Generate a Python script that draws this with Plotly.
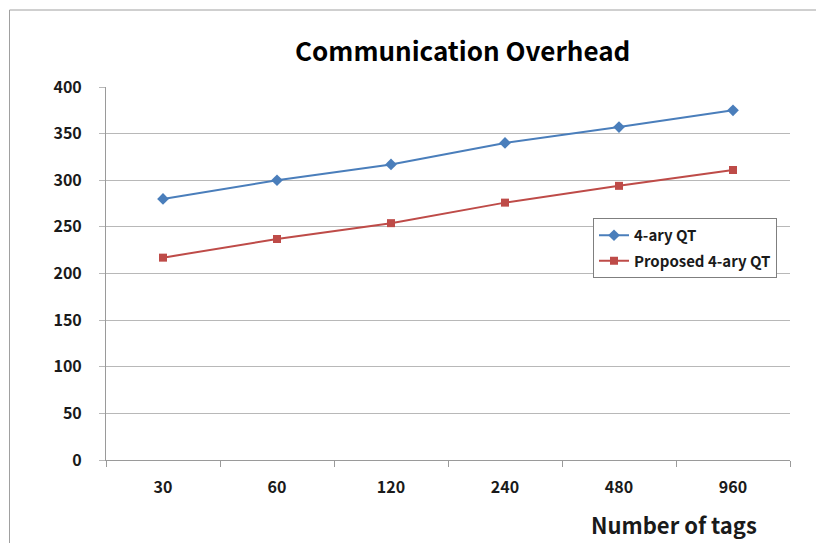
import plotly.graph_objects as go

categories = ["30", "60", "120", "240", "480", "960"]
qt_4ary = [280, 300, 317, 340, 357, 375]
proposed_4ary = [217, 237, 254, 276, 294, 311]
y_ticks = [0, 50, 100, 150, 200, 250, 300, 350, 400]

FONT = "Noto Sans CJK KR"

# page has an 8px body margin, so figure coords = screen coords - 8
PL, PR, PT, PB = 98, 782, 79, 452
W, H = 816, 535
PW, PH = PR - PL, PB - PT

def px(x):
    return (x - 8 - PL) / PW

def py(y):
    return (PB - (y - 8)) / PH

fig = go.Figure()
fig.add_trace(go.Scatter(
    x=categories, y=qt_4ary, name="4-ary QT", mode="lines+markers",
    legendgroup="a",
    line=dict(color="#4A7EBB", width=2),
    marker=dict(symbol="diamond", size=9, color="#4A7EBB"),
))
fig.add_trace(go.Scatter(
    x=categories, y=proposed_4ary, name="Proposed 4-ary QT", mode="lines+markers",
    legendgroup="b",
    line=dict(color="#BE4B48", width=2),
    marker=dict(symbol="square", size=8, color="#BE4B48"),
))

fig.update_layout(
    width=W, height=H,
    margin=dict(l=PL, r=W - PR, t=PT, b=H - PB),
    paper_bgcolor="white", plot_bgcolor="white",
    font=dict(family=FONT, size=16, color="#1a1a1a"),
    showlegend=True,
    legend=dict(
        x=px(777), y=py(218), xanchor="right", yanchor="top",
        bordercolor="#7f7f7f", borderwidth=1, bgcolor="white",
        font=dict(family=FONT, size=15, color="#1a1a1a", weight="bold"),
        traceorder="grouped", tracegroupgap=3, itemwidth=30,
    ),
    xaxis=dict(
        type="category", range=[-0.5, len(categories) - 0.5],
        showgrid=False, showline=True, linecolor="#9a9a9a",
        linewidth=1, ticks="outside", tickson="boundaries", ticklen=6,
        tickcolor="#9a9a9a", tickfont=dict(family=FONT, size=16, weight="bold"),
        ticklabelstandoff=13, fixedrange=True,
    ),
    yaxis=dict(
        range=[0, 400], tickvals=y_ticks, showgrid=True, gridcolor="#B8B8B8",
        gridwidth=1, showline=True, linecolor="#9a9a9a", linewidth=1,
        ticks="outside", ticklen=6, tickcolor="#B8B8B8",
        tickfont=dict(family=FONT, size=16, weight="bold"),
        ticklabelstandoff=14, zeroline=False, fixedrange=True,
    ),
    annotations=[
        dict(text="Communication Overhead", x=px(462), y=py(50), xref="paper", yref="paper",
             xanchor="center", yanchor="middle",
             showarrow=False, font=dict(family=FONT, size=26, weight="bold", color="#000000")),
        dict(text="Number of tags", x=px(674), y=py(524), xref="paper", yref="paper",
             xanchor="center", yanchor="middle",
             showarrow=False, font=dict(family=FONT, size=22, weight="bold", color="#1a1a1a")),
    ],
    shapes=[
        dict(type="rect", xref="paper", yref="paper",
             x0=px(9.5), x1=1.3, y0=-0.5, y1=py(10),
             line=dict(color="#A0A0A0", width=1), fillcolor="rgba(0,0,0,0)", layer="below"),
    ],
)

fig.write_html("out.html")
